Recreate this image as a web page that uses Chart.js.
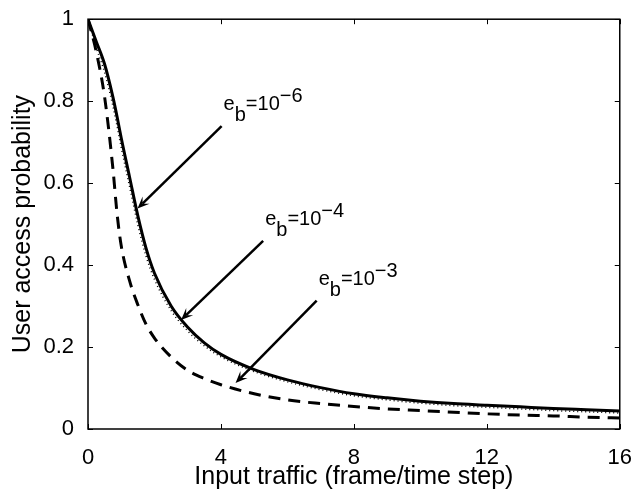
<!DOCTYPE html>
<html>
<head>
<meta charset="utf-8">
<script src="https://cdn.jsdelivr.net/npm/chart.js@4.4.1/dist/chart.umd.min.js"></script>
<style>
  html, body { margin: 0; padding: 0; background: #fff; }
  canvas { display: block; }
</style>
</head>
<body>
<canvas id="accessChart" width="640" height="494"></canvas>
<script>
// Input traffic (frame/time step)
const traffic = [0, 0.25, 0.5, 0.75, 0.875, 1, 1.25, 1.5, 1.75, 2, 2.5, 3, 3.5, 4, 5, 6, 7, 8, 9, 10, 11, 12, 13, 14, 15, 16];

// User access probability, one series per bit error rate
const accessE6 = [1, 0.945, 0.89, 0.81, 0.762, 0.71, 0.615, 0.52, 0.44, 0.38, 0.30, 0.248, 0.21, 0.182, 0.145, 0.120, 0.101, 0.086, 0.076, 0.068, 0.062, 0.058, 0.054, 0.050, 0.047, 0.044];
const accessE4 = [1, 0.93, 0.87, 0.788, 0.739, 0.687, 0.592, 0.498, 0.421, 0.365, 0.289, 0.239, 0.203, 0.176, 0.140, 0.115, 0.096, 0.081, 0.071, 0.063, 0.057, 0.053, 0.049, 0.045, 0.042, 0.039];
const accessE3 = [1, 0.92, 0.81, 0.635, 0.525, 0.447, 0.362, 0.303, 0.255, 0.222, 0.176, 0.143, 0.123, 0.108, 0.086, 0.071, 0.062, 0.055, 0.049, 0.045, 0.041, 0.037, 0.034, 0.032, 0.029, 0.027];

const xTicks = [0, 4, 8, 12, 16];
const yTicks = [0, 0.2, 0.4, 0.6, 0.8, 1];
const yTickLabels = ['0', '0.2', '0.4', '0.6', '0.8', '1'];

// Arrow notes: exponent of e_b, arrow tail and arrow head (data units)
const noteExponents = ['\u22126', '\u22124', '\u22123'];
const noteTails = [[4.02, 0.739], [5.27, 0.459], [6.88, 0.313]];
const noteHeads = [[1.49, 0.538], [2.80, 0.266], [4.44, 0.112]];

const FONT = '"Liberation Sans", Arial, Helvetica, sans-serif';

function toPoints(values) {
    return traffic.map((x, i) => ({ x: x, y: values[i] }));
}

// Box round the plot with inward ticks on all four sides
const axesBox = {
    id: 'axesBox',
    afterDatasetsDraw(chart) {
        const { ctx, chartArea: a, scales: { x, y } } = chart;
        ctx.save();
        ctx.strokeStyle = '#000';
        ctx.lineWidth = 1;
        ctx.beginPath();
        xTicks.forEach(v => {
            const px = Math.round(x.getPixelForValue(v)) + 0.5;
            ctx.moveTo(px, a.bottom); ctx.lineTo(px, a.bottom - 5);
            ctx.moveTo(px, a.top); ctx.lineTo(px, a.top + 5);
        });
        yTicks.forEach(v => {
            const py = Math.round(y.getPixelForValue(v)) + 0.5;
            ctx.moveTo(a.left, py); ctx.lineTo(a.left + 5, py);
            ctx.moveTo(a.right, py); ctx.lineTo(a.right - 5, py);
        });
        ctx.stroke();
        ctx.lineWidth = 1.5;
        ctx.strokeRect(a.left, a.top, a.right - a.left, a.bottom - a.top);
        ctx.restore();
    }
};

// Arrows with e_b labels
const arrowNotes = {
    id: 'arrowNotes',
    afterDatasetsDraw(chart) {
        const { ctx, scales: { x, y } } = chart;
        ctx.save();
        ctx.strokeStyle = '#000';
        ctx.fillStyle = '#000';
        ctx.lineWidth = 2.5;
        noteTails.forEach((tail, i) => {
            const tx = x.getPixelForValue(tail[0]);
            const ty = y.getPixelForValue(tail[1]);
            const hx = x.getPixelForValue(noteHeads[i][0]);
            const hy = y.getPixelForValue(noteHeads[i][1]);
            const len = Math.hypot(hx - tx, hy - ty);
            const ux = (hx - tx) / len, uy = (hy - ty) / len;
            const nx = -uy, ny = ux;

            ctx.beginPath();
            ctx.moveTo(tx, ty);
            ctx.lineTo(hx - ux * 7, hy - uy * 7);
            ctx.stroke();

            ctx.beginPath();
            ctx.moveTo(hx, hy);
            ctx.lineTo(hx - ux * 12 + nx * 5, hy - uy * 12 + ny * 5);
            ctx.lineTo(hx - ux * 7, hy - uy * 7);
            ctx.lineTo(hx - ux * 12 - nx * 5, hy - uy * 12 - ny * 5);
            ctx.closePath();
            ctx.fill();

            // e_b=10^exp
            ctx.font = '20px ' + FONT;
            ctx.textBaseline = 'alphabetic';
            ctx.textAlign = 'left';
            let cx = tx + 2;
            const base = ty - 16;
            ctx.fillText('e', cx, base);
            cx += ctx.measureText('e').width;
            ctx.fillText('b', cx, base + 11);
            cx += ctx.measureText('b').width;
            ctx.fillText('=10', cx, base);
            cx += ctx.measureText('=10').width;
            ctx.fillText(noteExponents[i], cx, base - 8);
        });
        ctx.restore();
    }
};

new Chart(document.getElementById('accessChart'), {
    type: 'line',
    data: {
        datasets: [
            {
                label: 'e_b=10^-6',
                data: toPoints(accessE6),
                borderColor: '#000',
                borderWidth: 3,
                order: 0
            },
            {
                label: 'e_b=10^-4',
                data: toPoints(accessE4),
                borderColor: '#000',
                borderWidth: 1.5,
                borderDash: [1, 3],
                order: 1
            },
            {
                label: 'e_b=10^-3',
                data: toPoints(accessE3),
                borderColor: '#000',
                borderWidth: 3,
                borderDash: [12, 8],
                order: 2
            }
        ]
    },
    options: {
        responsive: false,
        animation: false,
        devicePixelRatio: 1,
        layout: { padding: { top: 11, right: 15, left: 0, bottom: 0 } },
        elements: {
            point: { radius: 0 },
            line: { cubicInterpolationMode: 'monotone', fill: false }
        },
        plugins: {
            legend: { display: false },
            tooltip: { enabled: false }
        },
        scales: {
            x: {
                type: 'linear',
                position: 'bottom',
                min: 0,
                max: 16,
                afterBuildTicks: s => { s.ticks = xTicks.map(v => ({ value: v })); },
                afterFit: s => { s.height = 65; },
                grid: { display: false },
                border: { display: false },
                ticks: {
                    color: '#000',
                    font: { family: FONT, size: 22 },
                    padding: 8,
                    maxRotation: 0,
                    autoSkip: false,
                    callback: v => String(v)
                },
                title: {
                    display: true,
                    text: 'Input traffic (frame/time step)',
                    color: '#000',
                    font: { family: FONT, size: 25 },
                    padding: { top: 0, bottom: 2 }
                }
            },
            y: {
                type: 'linear',
                min: 0,
                max: 1,
                afterBuildTicks: s => { s.ticks = yTicks.map(v => ({ value: v })); },
                afterFit: s => { s.width = 88; },
                grid: { display: false },
                border: { display: false },
                ticks: {
                    color: '#000',
                    font: { family: FONT, size: 22 },
                    padding: 6,
                    autoSkip: false,
                    callback: (v, i) => yTickLabels[i]
                },
                title: {
                    display: true,
                    text: 'User access probability',
                    color: '#000',
                    font: { family: FONT, size: 25 },
                    padding: { top: 8, bottom: 0 }
                }
            }
        }
    },
    plugins: [axesBox, arrowNotes]
});
</script>
</body>
</html>
